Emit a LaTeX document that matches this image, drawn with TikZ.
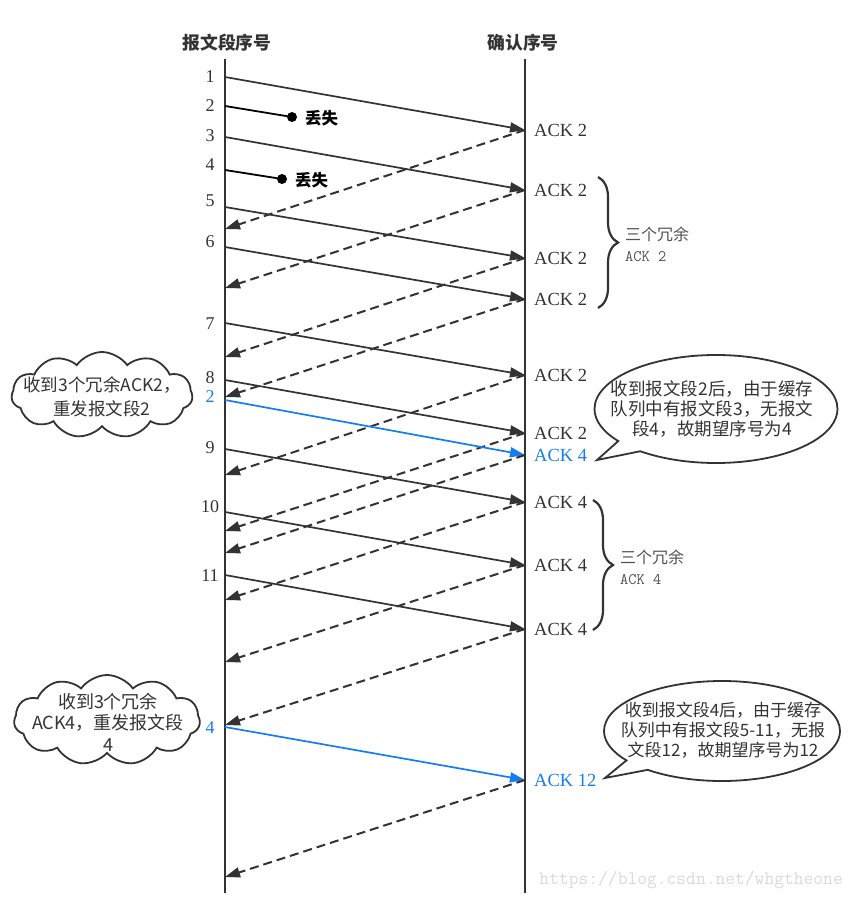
\documentclass[tikz,border=0pt]{standalone}
\usepackage{fontspec}
\setmainfont{Liberation Serif}
\newfontfamily\cjk{Noto Sans CJK SC}
\usetikzlibrary{arrows.meta,shapes.callouts,shapes.symbols,decorations.pathreplacing}

\definecolor{ink}{RGB}{51,51,51}
\definecolor{resend}{RGB}{22,125,240}
\definecolor{wmgray}{RGB}{218,218,215}

\newcommand\Seg[8]{
  \node[num,text=#1] (num#2) at (210,#4) {#3};
  \coordinate (snd#2) at (225,#5);
  \coordinate (rcv#2) at (525,#6);
  \coordinate (ret#2) at (225,#8);
  \node[ack,text=#1] (ack#2) at (534,#6) {#7};
  \draw[seg,draw=#1] (snd#2) -- (rcv#2);
  \draw[ret] (rcv#2) -- (ret#2);
}
\newcommand\Lost[6]{
  \node[num] (num#1) at (210,#3) {#2};
  \coordinate (snd#1) at (225,#4);
  \node[dot] (dot#1) at (#5,#6) {};
  \node[lost] (lost#1) at (#5+13,#6+1) {丢失};
  \draw[drop] (snd#1) -- (dot#1.center);
}
\newcommand\Dup[4]{
  \coordinate (dup#1top) at (#2,#3);
  \coordinate (dup#1bot) at (#2,#4);
  \draw[dupbrace] (dup#1top) -- (dup#1bot);
  \node[duptext] (dup#1txt) at (#2+27,#3/2+#4/2+2) {三个冗余\\{\ttfamily ACK #1}};
}
\tikzstyle{num}=[inner sep=0pt,font=\fontsize{18}{18}\selectfont]
\tikzstyle{ack}=[anchor=west,inner sep=0pt,font=\fontsize{18.5}{18.5}\selectfont]
\tikzstyle{seg}=[line width=1.7pt,-{Triangle[length=15pt,width=10pt]}]
\tikzstyle{ret}=[draw=ink,line width=2pt,dash pattern=on 9pt off 5pt,-{Triangle[length=15pt,width=10pt]}]
\tikzstyle{dot}=[circle,fill=black,inner sep=0pt,minimum size=10pt]
\tikzstyle{drop}=[draw=black,line width=1.8pt]
\tikzstyle{lost}=[anchor=west,inner sep=0pt,text=black,font=\cjk\bfseries\fontsize{16.5}{16.5}\selectfont]
\tikzstyle{host}=[draw=ink,line width=2.5pt]
\tikzstyle{head}=[inner sep=0pt,font=\cjk\bfseries\fontsize{17.8}{17.8}\selectfont]
\tikzstyle{dupbrace}=[draw=ink,line width=2.2pt,decorate,decoration={brace,amplitude=20pt}]
\tikzstyle{duptext}=[anchor=west,align=left,inner sep=0pt,text=ink!85,font=\cjk\fontsize{16}{21}\selectfont]
\tikzstyle{cloudbox}=[cloud,draw=ink,line width=1.8pt,cloud puffs=11,cloud puff arc=110,cloud ignores aspect,inner sep=0pt]
\tikzstyle{bubble}=[ellipse callout,draw=ink,line width=1.8pt,inner sep=0pt]
\tikzstyle{note}=[align=center,inner sep=0pt,font=\cjk\fontsize{17.5}{20}\selectfont]
\tikzstyle{cloudnote}=[align=center,inner sep=0pt,font=\cjk\fontsize{17.5}{24}\selectfont]

\begin{document}
\begin{tikzpicture}[x=1pt,y=-1pt,text=ink]
  \useasboundingbox (0,0) rectangle (855,899);
  \node[head] (hsend) at (227,43) {报文段序号};
  \node[head] (hrecv) at (523,43) {确认序号};
  \coordinate (ltop) at (225,59);
  \coordinate (lbot) at (225,893);
  \coordinate (rtop) at (525,59);
  \coordinate (rbot) at (525,893);
  \draw[host] (ltop) -- (lbot);
  \draw[host] (rtop) -- (rbot);

  \Seg{ink}{1}{1}{77}{77}{130}{ACK 2}{229}
  \Lost{2}{2}{106}{106}{292}{117}
  \Seg{ink}{3}{3}{136}{137}{190}{ACK 2}{288}
  \Lost{4}{4}{165}{170}{282}{179}
  \Seg{ink}{5}{5}{201}{207}{258}{ACK 2}{357}
  \Seg{ink}{6}{6}{242}{247}{299}{ACK 2}{397}
  \Seg{ink}{7}{7}{324}{323}{375}{ACK 2}{475}
  \Seg{ink}{8}{8}{378}{380}{433}{ACK 2}{531}
  \Seg{resend}{2b}{2}{397}{400}{455}{ACK 4}{553}
  \Seg{ink}{9}{9}{448}{449}{502}{ACK 4}{600}
  \Seg{ink}{10}{10}{507}{512}{565}{ACK 4}{662}
  \Seg{ink}{11}{11}{576}{575}{629}{ACK 4}{725}
  \Seg{resend}{4b}{4}{728}{727}{780}{ACK 12}{877}

  \Dup{2}{598}{177}{308}
  \Dup{4}{593}{500}{630}

  \node[cloudbox,minimum width=181pt,minimum height=86pt] (cloud2) at (102,395) {};
  \node[cloudnote] (cloud2txt) at (102,397) {收到3个冗余ACK2，\\重发报文段2};
  \node[cloudbox,minimum width=186pt,minimum height=90pt] (cloud4) at (107,720) {};
  \node[cloudnote,font=\cjk\fontsize{18}{21.5}\selectfont] (cloud4txt) at (108,722) {收到3个冗余\\ACK4，重发报文段\\4};

  \coordinate (tip2) at (597,460);
  \node[bubble,minimum width=243pt,minimum height=108pt,callout absolute pointer={(tip2)}] (bub2) at (716,409) {};
  \node[note] (bub2txt) at (712,409) {收到报文段2后，由于缓存\\队列中有报文段3，无报文\\段4，故期望序号为4};
  \coordinate (tip4) at (605,778);
  \node[bubble,minimum width=236pt,minimum height=100pt,callout absolute pointer={(tip4)}] (bub4) at (722,731) {};
  \node[note,font=\cjk\fontsize{17}{20}\selectfont] (bub4txt) at (723,730) {收到报文段4后，由于缓存\\队列中有报文段5-11，无报\\文段12，故期望序号为12};

  \node[anchor=east,inner sep=0pt,text=wmgray,font=\ttfamily\fontsize{19}{19}\selectfont] (wm) at (843,880) {https://blog.csdn.net/whgtheone};
\end{tikzpicture}
\end{document}
